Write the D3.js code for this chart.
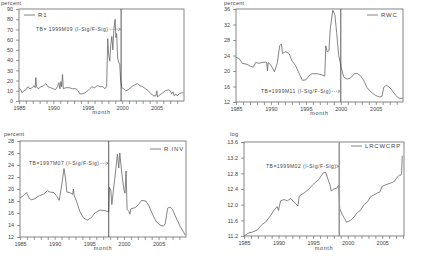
<!DOCTYPE html>
<html>
<head>
<meta charset="utf-8">
<script src="https://cdn.jsdelivr.net/npm/d3@7"></script>
<style>
  body { margin: 0; background: #fff; }
  svg { display: block; font-family: "Liberation Sans", Arial, sans-serif; }
</style>
</head>
<body>
<div id="chart"></div>
<script>
// R1 (percent)
const r1Years = [1985.0, 1985.25, 1985.45, 1985.7, 1986.0, 1986.3, 1986.6, 1986.9, 1987.2, 1987.35, 1987.45, 1987.55, 1987.8, 1988.2, 1988.6, 1988.9, 1989.2, 1989.6, 1990.0, 1990.3, 1990.6, 1990.8, 1990.95, 1991.1, 1991.2, 1991.33, 1991.45, 1991.8, 1992.3, 1992.8, 1993.3, 1993.6, 1993.8, 1994.2, 1994.6, 1995.0, 1995.3, 1995.6, 1996.0, 1996.4, 1996.8, 1997.2, 1997.5, 1997.75, 1997.9, 1998.05, 1998.2, 1998.35, 1998.5, 1998.65, 1998.8, 1998.98, 1999.1, 1999.2, 1999.35, 1999.5, 1999.65, 1999.78, 1999.95, 2000.2, 2000.5, 2000.9, 2001.4, 2001.9, 2002.2, 2002.6, 2003.0, 2003.4, 2003.8, 2004.2, 2004.6, 2004.9, 2005.05, 2005.15, 2005.5, 2005.9, 2006.3, 2006.7, 2007.0, 2007.2, 2007.4, 2007.6, 2007.8, 2008.0, 2008.3, 2008.6, 2008.9];
const r1Values = [13, 11, 8, 10, 11, 14, 12, 13, 15, 13, 23, 14, 12, 14, 15, 17, 14, 13, 12, 11, 14, 18, 12, 19, 14, 26, 12, 13, 13, 12, 12, 10, 7, 7, 8, 10, 12, 14, 13, 15, 14, 14, 12, 14, 61, 45, 39, 55, 63, 50, 70, 80, 62, 66, 42, 38, 36, 20, 13, 12, 10, 11, 14, 16, 17, 15, 14, 12, 10, 7, 5, 5, 10, 4, 6, 8, 10, 11, 10, 7, 9, 5, 7, 5, 7, 8, 8];

// RWC (percent)
const rwcYears = [1985.0, 1985.4, 1985.9, 1986.6, 1987.1, 1987.5, 1987.8, 1988.3, 1988.75, 1989.25, 1989.4, 1989.5, 1989.6, 1990.0, 1990.5, 1990.9, 1991.25, 1991.5, 1991.65, 1992.1, 1992.6, 1993.05, 1993.5, 1994.0, 1994.5, 1995.0, 1995.45, 1995.9, 1996.6, 1997.3, 1997.7, 1997.85, 1998.05, 1998.3, 1998.5, 1998.85, 1999.15, 1999.4, 1999.7, 2000.05, 2000.4, 2000.9, 2001.4, 2001.95, 2002.3, 2002.8, 2003.3, 2003.75, 2004.25, 2004.95, 2005.55, 2005.9, 2006.15, 2006.5, 2006.85, 2007.35, 2007.8, 2008.3, 2008.85];
const rwcValues = [23.5, 23.3, 22.0, 21.7, 21.2, 21.0, 22.2, 22.0, 22.2, 22.3, 22.2, 20.0, 22.2, 21.5, 19.8, 22.0, 26.5, 27.0, 24.5, 25.0, 24.5, 22.5, 21.5, 19.5, 17.6, 17.7, 18.8, 19.3, 19.3, 19.0, 18.7, 26.5, 25.0, 25.2, 31.0, 35.7, 34.5, 30.0, 24.0, 21.0, 18.5, 17.9, 18.2, 19.3, 19.4, 18.8, 17.5, 15.7, 14.7, 13.7, 13.3, 13.5, 15.8, 16.3, 16.0, 15.0, 13.8, 13.0, 12.9];

// R.INV (percent)
const rinvYears = [1985.0, 1985.5, 1985.95, 1986.35, 1986.7, 1987.15, 1987.8, 1988.35, 1988.95, 1989.3, 1989.9, 1990.3, 1990.65, 1991.0, 1991.35, 1991.6, 1991.75, 1992.2, 1992.6, 1992.7, 1992.8, 1993.2, 1993.65, 1994.15, 1994.7, 1995.35, 1995.8, 1996.55, 1997.25, 1997.8, 1997.9, 1998.1, 1998.25, 1998.55, 1998.8, 1999.05, 1999.25, 1999.4, 1999.7, 2000.0, 2000.15, 2000.3, 2000.45, 2000.7, 2000.85, 2001.0, 2001.6, 2002.1, 2002.55, 2003.15, 2003.6, 2004.15, 2004.7, 2005.2, 2005.7, 2005.95, 2006.3, 2006.65, 2007.0, 2007.6, 2008.1, 2008.85];
const rinvValues = [18.5, 18.9, 19.4, 18.4, 18.2, 18.4, 18.9, 19.1, 19.7, 19.5, 19.4, 18.8, 18.1, 20.5, 23.4, 21.5, 19.5, 19.4, 19.1, 20.0, 19.0, 17.8, 16.2, 15.2, 14.8, 15.3, 16.0, 16.5, 16.4, 16.2, 20.3, 19.8, 17.4, 20.5, 23.0, 25.8, 23.5, 26.0, 22.5, 19.8, 19.3, 23.0, 16.6, 16.3, 15.8, 16.7, 16.9, 17.4, 18.1, 18.0, 17.2, 15.7, 14.5, 14.0, 13.8, 14.2, 16.8, 17.0, 16.6, 15.0, 13.8, 12.3];

// LRCWCRP (log)
const lrcYears = [1985.0, 1985.7, 1986.2, 1986.9, 1987.65, 1988.1, 1988.85, 1989.3, 1989.8, 1990.0, 1990.1, 1990.3, 1990.8, 1991.3, 1991.75, 1992.2, 1992.8, 1993.0, 1993.7, 1994.4, 1994.9, 1995.4, 1995.85, 1996.4, 1996.8, 1997.15, 1997.45, 1997.6, 1998.0, 1998.4, 1998.7, 1998.85, 1999.2, 1999.55, 1999.85, 2000.4, 2000.9, 2001.4, 2001.85, 2002.35, 2002.85, 2003.3, 2003.8, 2004.3, 2004.65, 2005.0, 2005.7, 2006.2, 2006.45, 2006.8, 2007.15, 2007.55, 2007.7, 2007.8, 2007.9];
const lrcValues = [11.2, 11.28, 11.3, 11.35, 11.5, 11.55, 11.72, 11.85, 11.95, 11.85, 11.95, 12.1, 12.13, 12.1, 12.16, 12.07, 11.97, 12.22, 12.3, 12.4, 12.5, 12.58, 12.65, 12.8, 12.83, 12.65, 12.5, 12.35, 12.4, 12.42, 12.5, 11.9, 11.75, 11.65, 11.55, 11.6, 11.68, 11.8, 11.85, 12.0, 12.07, 12.2, 12.25, 12.3, 12.32, 12.47, 12.52, 12.55, 12.57, 12.6, 12.7, 12.76, 12.75, 12.8, 13.25];

const seriesNames = ["R1", "RWC", "R.INV", "LRCWCRP"];
const unitLabels = ["percent", "percent", "percent", "log"];
const breakYears = [1999.85, 2000.0, 1997.8, 1998.78];
const breakLabels = ["TB= 1999M09 (I-Sig/F-Sig)", "TB=1999M11 (I-Sig/F-Sig)", "TB=1997M07 (I-Sig/F-Sig)", "TB=1999M02 (I-Sig/F-Sig)"];
const yTicks = [
    d3.range(0, 91, 10),
    d3.range(12, 37, 4),
    d3.range(12, 29, 2),
    [11.2, 11.6, 12.0, 12.4, 12.8, 13.2, 13.6]
];
const xTicks = d3.range(1985, 2009, 1);
const xLabels = [1985, 1990, 1995, 2000, 2005];

// layout of each panel (pixels)
const panels = [
    { x: r1Years, y: r1Values, left: 19, right: 184, top: 9, bottom: 101, yMin: 0, yMax: 90, xMax: 2009.0,
      unit: [1, 5], legend: { x: 24, y: 15 }, note: { x: 36, y: 31 }, monthY: 114, breakColor: "#444", breakWidth: 0.9, fmt: d3.format("d") },
    { x: rwcYears, y: rwcValues, left: 236, right: 403, top: 9, bottom: 102, yMin: 12, yMax: 36, xMax: 2008.9,
      unit: [224, 5], legend: { x: 367, y: 15 }, note: { x: 261, y: 93 }, monthY: 115, breakColor: "#444", breakWidth: 0.9, fmt: d3.format("d") },
    { x: rinvYears, y: rinvValues, left: 20, right: 186, top: 141, bottom: 237, yMin: 12, yMax: 28, xMax: 2008.95,
      unit: [4, 136], legend: { x: 150, y: 149 }, note: { x: 29, y: 165 }, monthY: 250, breakColor: "#444", breakWidth: 0.9, fmt: d3.format("d") },
    { x: lrcYears, y: lrcValues, left: 244, right: 404, top: 142, bottom: 236, yMin: 11.2, yMax: 13.6, xMax: 2008.15,
      unit: [230, 136], legend: { x: 351, y: 146 }, note: { x: 266, y: 168 }, monthY: 250, breakColor: "#999", breakWidth: 1.6, fmt: d3.format(".1f") }
];

const svg = d3.select("#chart")
    .append("svg")
    .attr("width", 447)
    .attr("height", 259);

const ink = "#555";

panels.forEach(function (p, i) {
    const xScale = d3.scaleLinear().domain([1985, p.xMax]).range([p.left, p.right]);
    const yScale = d3.scaleLinear().domain([p.yMin, p.yMax]).range([p.bottom, p.top]);
    const g = svg.append("g");

    // y axis
    const yAxis = g.append("g")
        .attr("transform", "translate(" + p.left + ",0)")
        .call(d3.axisLeft(yScale).tickValues(yTicks[i]).tickSize(3).tickPadding(3).tickFormat(p.fmt));

    // x axis, yearly ticks, labels every five years
    const xAxis = g.append("g")
        .attr("transform", "translate(0," + p.bottom + ")")
        .call(d3.axisBottom(xScale).tickValues(xTicks).tickSize(3).tickPadding(2)
            .tickFormat(d => xLabels.includes(d) ? d : ""));

    [yAxis, xAxis].forEach(function (ax) {
        ax.select(".domain").remove();
        ax.selectAll("line").attr("stroke", ink).attr("stroke-width", 0.6);
        ax.selectAll("text").attr("fill", "#444").style("font-size", "5.5px");
    });

    // frame
    g.append("rect")
        .attr("x", p.left)
        .attr("y", p.top)
        .attr("width", p.right - p.left)
        .attr("height", p.bottom - p.top)
        .attr("fill", "none")
        .attr("stroke", "#666")
        .attr("stroke-width", 0.8);

    // series line
    const line = d3.line()
        .x((d, j) => xScale(p.x[j]))
        .y(d => yScale(d));

    g.append("path")
        .datum(p.y)
        .attr("d", line)
        .attr("fill", "none")
        .attr("stroke", "#666")
        .attr("stroke-width", 0.8)
        .attr("stroke-linejoin", "round");

    // break line
    const bx = xScale(breakYears[i]);
    g.append("line")
        .attr("x1", bx).attr("x2", bx)
        .attr("y1", p.top).attr("y2", p.bottom)
        .attr("stroke", p.breakColor)
        .attr("stroke-width", p.breakWidth);

    // break annotation
    const note = g.append("text")
        .attr("x", p.note.x)
        .attr("y", p.note.y)
        .attr("fill", "#444")
        .style("font-size", "5px")
        .style("letter-spacing", "0.5px")
        .text(breakLabels[i]);
    const noteEnd = p.note.x + note.node().getComputedTextLength() + 1;
    g.append("line")
        .attr("x1", noteEnd).attr("x2", bx - 1)
        .attr("y1", p.note.y - 1.7).attr("y2", p.note.y - 1.7)
        .attr("stroke", "#555")
        .attr("stroke-width", 0.5)
        .attr("stroke-dasharray", "1.2,0.8");
    g.append("path")
        .attr("d", "M" + (bx - 3) + "," + (p.note.y - 3.2) + "L" + (bx - 0.5) + "," + (p.note.y - 1.7) + "L" + (bx - 3) + "," + (p.note.y - 0.2))
        .attr("fill", "none")
        .attr("stroke", "#555")
        .attr("stroke-width", 0.5);

    // legend
    g.append("line")
        .attr("x1", p.legend.x).attr("x2", p.legend.x + 11)
        .attr("y1", p.legend.y).attr("y2", p.legend.y)
        .attr("stroke", "#666")
        .attr("stroke-width", 0.8);
    g.append("text")
        .attr("x", p.legend.x + 14)
        .attr("y", p.legend.y + 2)
        .attr("fill", "#444")
        .style("font-size", "6px")
        .style("letter-spacing", "0.8px")
        .text(seriesNames[i]);

    // unit label
    g.append("text")
        .attr("x", p.unit[0])
        .attr("y", p.unit[1])
        .attr("fill", "#444")
        .style("font-size", "5.5px")
        .style("letter-spacing", "0.3px")
        .text(unitLabels[i]);

    // x title
    g.append("text")
        .attr("x", (p.left + p.right) / 2)
        .attr("y", p.monthY)
        .attr("text-anchor", "middle")
        .attr("fill", "#444")
        .style("font-size", "5.5px")
        .style("letter-spacing", "0.6px")
        .text("month");
});
</script>
</body>
</html>
